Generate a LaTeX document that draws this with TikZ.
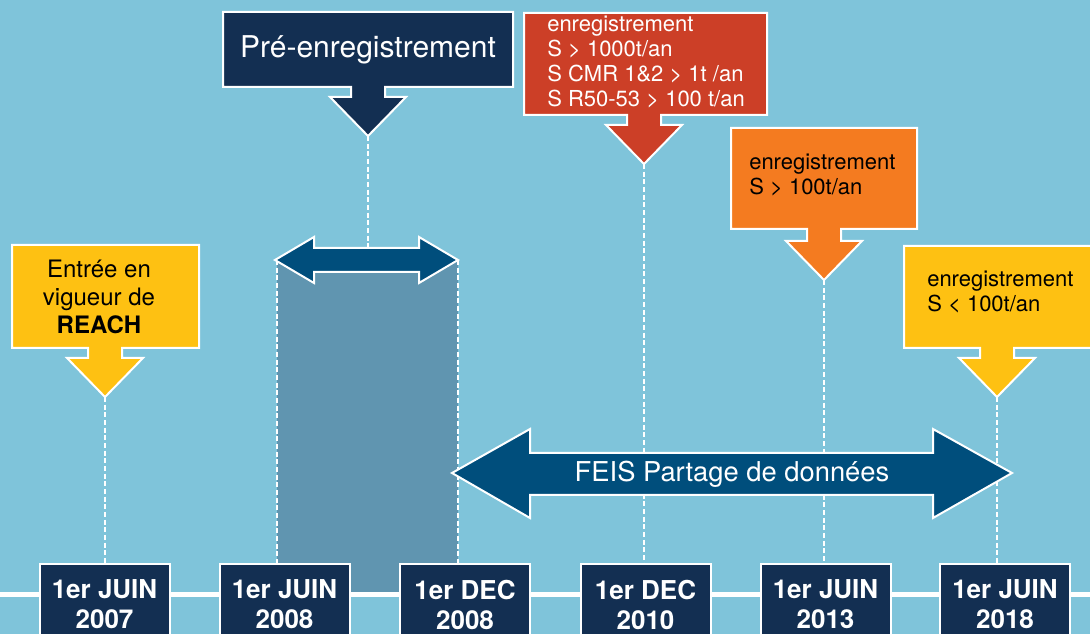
\documentclass[tikz,border=0pt]{standalone}
\usepackage{fontspec}
\setmainfont{TeX Gyre Heros}
\definecolor{sky}{HTML}{7FC4DA}
\definecolor{navy}{HTML}{132F52}
\definecolor{feisblue}{HTML}{004E7C}
\definecolor{periodblue}{HTML}{6095B0}
\definecolor{gold}{HTML}{FEC112}
\definecolor{brick}{HTML}{CC3F27}
\definecolor{tangerine}{HTML}{F47B20}
\tikzset{
  datebox/.style={draw=white, line width=1.5pt, fill=navy, text=white, anchor=north,
    minimum width=97.5pt, minimum height=60.75pt, inner sep=0pt, align=center,
    font=\fontsize{19.5}{22.5}\selectfont\bfseries},
  guide/.style={draw=white, line width=1.7pt, dash pattern=on 3.75pt off 2pt},
  callout/.style={draw=white, line width=1.5pt, line join=miter},
  calltext/.style={inner sep=0pt, anchor=west, align=left,
    font=\fontsize{16.5}{19}\selectfont}
}
\begin{document}
\begin{tikzpicture}[x=0.75pt, y=-0.75pt]
	\useasboundingbox (0,0) rectangle (1090,634);
	\clip (0,0) rectangle (1090,634);
	\fill[sky] (0,0) rectangle (1090,634);
	
	%Pre-registration period
	\fill[periodblue] (277,260) rectangle (458,592);
	%Time line
	\draw[white, line width=3.75pt] (0,595) -- (1090,595);
	
	%Dates
	\node[datebox] (d1) at (104.5,563) {1er JUIN\\2007};
	\node[datebox] (d2) at (284.5,563) {1er JUIN\\2008};
	\node[datebox] (d3) at (465,563) {1er DEC\\2008};
	\node[datebox] (d4) at (645.5,563) {1er DEC\\2010};
	\node[datebox] (d5) at (825.5,563) {1er JUIN\\2013};
	\node[datebox] (d6) at (1005,563) {1er JUIN\\2018};
	
	%One callout
	\def\cx{105}
	\def\lft{12} \def\rgt{199} \def\tp{245} \def\bt{348}
	\draw[callout, fill=gold] (\lft,\tp) -- (\rgt,\tp) -- (\rgt,\bt) -- (\cx+17,\bt) -- (\cx+17,\bt+10) -- (\cx+38,\bt+10)
		-- (\cx,\bt+49) -- (\cx-38,\bt+10) -- (\cx-17,\bt+10) -- (\cx-17,\bt) -- (\lft,\bt) -- cycle;
	\coordinate (reachtip) at (\cx,\bt+49);
	\node[inner sep=0pt, align=center, font=\fontsize{18}{21}\selectfont] (reach) at (99,296.5)
		{Entrée en\\vigueur de\\\textbf{REACH}};
	
	%One callout
	\def\cx{368}
	\def\lft{223} \def\rgt{513} \def\tp{12} \def\bt{87}
	\draw[callout, fill=navy] (\lft,\tp) -- (\rgt,\tp) -- (\rgt,\bt) -- (\cx+17,\bt) -- (\cx+17,\bt+10) -- (\cx+38,\bt+10)
		-- (\cx,\bt+49) -- (\cx-38,\bt+10) -- (\cx-17,\bt+10) -- (\cx-17,\bt) -- (\lft,\bt) -- cycle;
	\coordinate (pretip) at (\cx,\bt+49);
	\coordinate (premid) at (\cx,260);
	\node[inner sep=0pt, anchor=base, text=white, font=\fontsize{22.5}{26}\selectfont] (pre) at (368,58)
		{Pré-enregistrement};
	
	%One callout
	\def\cx{644}
	\def\lft{524} \def\rgt{767} \def\tp{13} \def\bt{115}
	\draw[callout, fill=brick] (\lft,\tp) -- (\rgt,\tp) -- (\rgt,\bt) -- (\cx+17,\bt) -- (\cx+17,\bt+10) -- (\cx+38,\bt+10)
		-- (\cx,\bt+49) -- (\cx-38,\bt+10) -- (\cx-17,\bt+10) -- (\cx-17,\bt) -- (\lft,\bt) -- cycle;
	\coordinate (bigtip) at (\cx,\bt+49);
	\node[calltext, text=white, font=\fontsize{16.5}{18.75}\selectfont] (big) at (547,61.5)
		{enregistrement\\S > 1000t/an\\S CMR 1\&2 > 1t /an\\S R50-53 > 100 t/an};
	
	%One callout
	\def\cx{824}
	\def\lft{731} \def\rgt{917} \def\tp{128} \def\bt{229}
	\draw[callout, fill=tangerine] (\lft,\tp) -- (\rgt,\tp) -- (\rgt,\bt) -- (\cx+17,\bt) -- (\cx+17,\bt+12) -- (\cx+38,\bt+12)
		-- (\cx,\bt+51) -- (\cx-38,\bt+12) -- (\cx-17,\bt+12) -- (\cx-17,\bt) -- (\lft,\bt) -- cycle;
	\coordinate (midtip) at (\cx,\bt+51);
	\node[calltext] (mid) at (749,175) {enregistrement\\S > 100t/an};
	
	%One callout
	\def\cx{997}
	\def\lft{904} \def\rgt{1100} \def\tp{246} \def\bt{348}
	\draw[callout, fill=gold] (\lft,\tp) -- (\rgt,\tp) -- (\rgt,\bt) -- (\cx+17,\bt) -- (\cx+17,\bt+10) -- (\cx+38,\bt+10)
		-- (\cx,\bt+49) -- (\cx-38,\bt+10) -- (\cx-17,\bt+10) -- (\cx-17,\bt) -- (\lft,\bt) -- cycle;
	\coordinate (smalltip) at (\cx,\bt+49);
	\node[calltext] (small) at (927,292) {enregistrement\\S < 100t/an};
	
	%Guides
	\coordinate (preL) at (277,260);
	\coordinate (preR) at (458,260);
	\draw[guide] (reachtip) -- (reachtip |- d1.north);
	\draw[guide] (pretip) -- (premid);
	\draw[guide] (preL) -- (preL |- d2.north);
	\draw[guide] (preR) -- (preR |- d3.north);
	\draw[guide] (bigtip) -- (bigtip |- d4.north);
	\draw[guide] (midtip) -- (midtip |- d5.north);
	\draw[guide] (smalltip) -- (smalltip |- d6.north);
	
	%Pre-registration arrow
	\draw[callout, fill=feisblue] (275,260) -- (314,237) -- (314,248) -- (419,248) -- (419,237) -- (458,260)
		-- (419,283) -- (419,272) -- (314,272) -- (314,283) -- cycle;
	
	%FEIS arrow
	\draw[callout, fill=feisblue] (452,473) -- (530,429) -- (530,453) -- (933,453) -- (933,429) -- (1012,473)
		-- (933,518) -- (933,495) -- (530,495) -- (530,518) -- cycle;
	\node[inner sep=0pt, anchor=base, text=white, font=\fontsize{20.5}{24}\selectfont] (feis) at (732,482)
		{FEIS Partage de données};
	
\end{tikzpicture}
\end{document}
